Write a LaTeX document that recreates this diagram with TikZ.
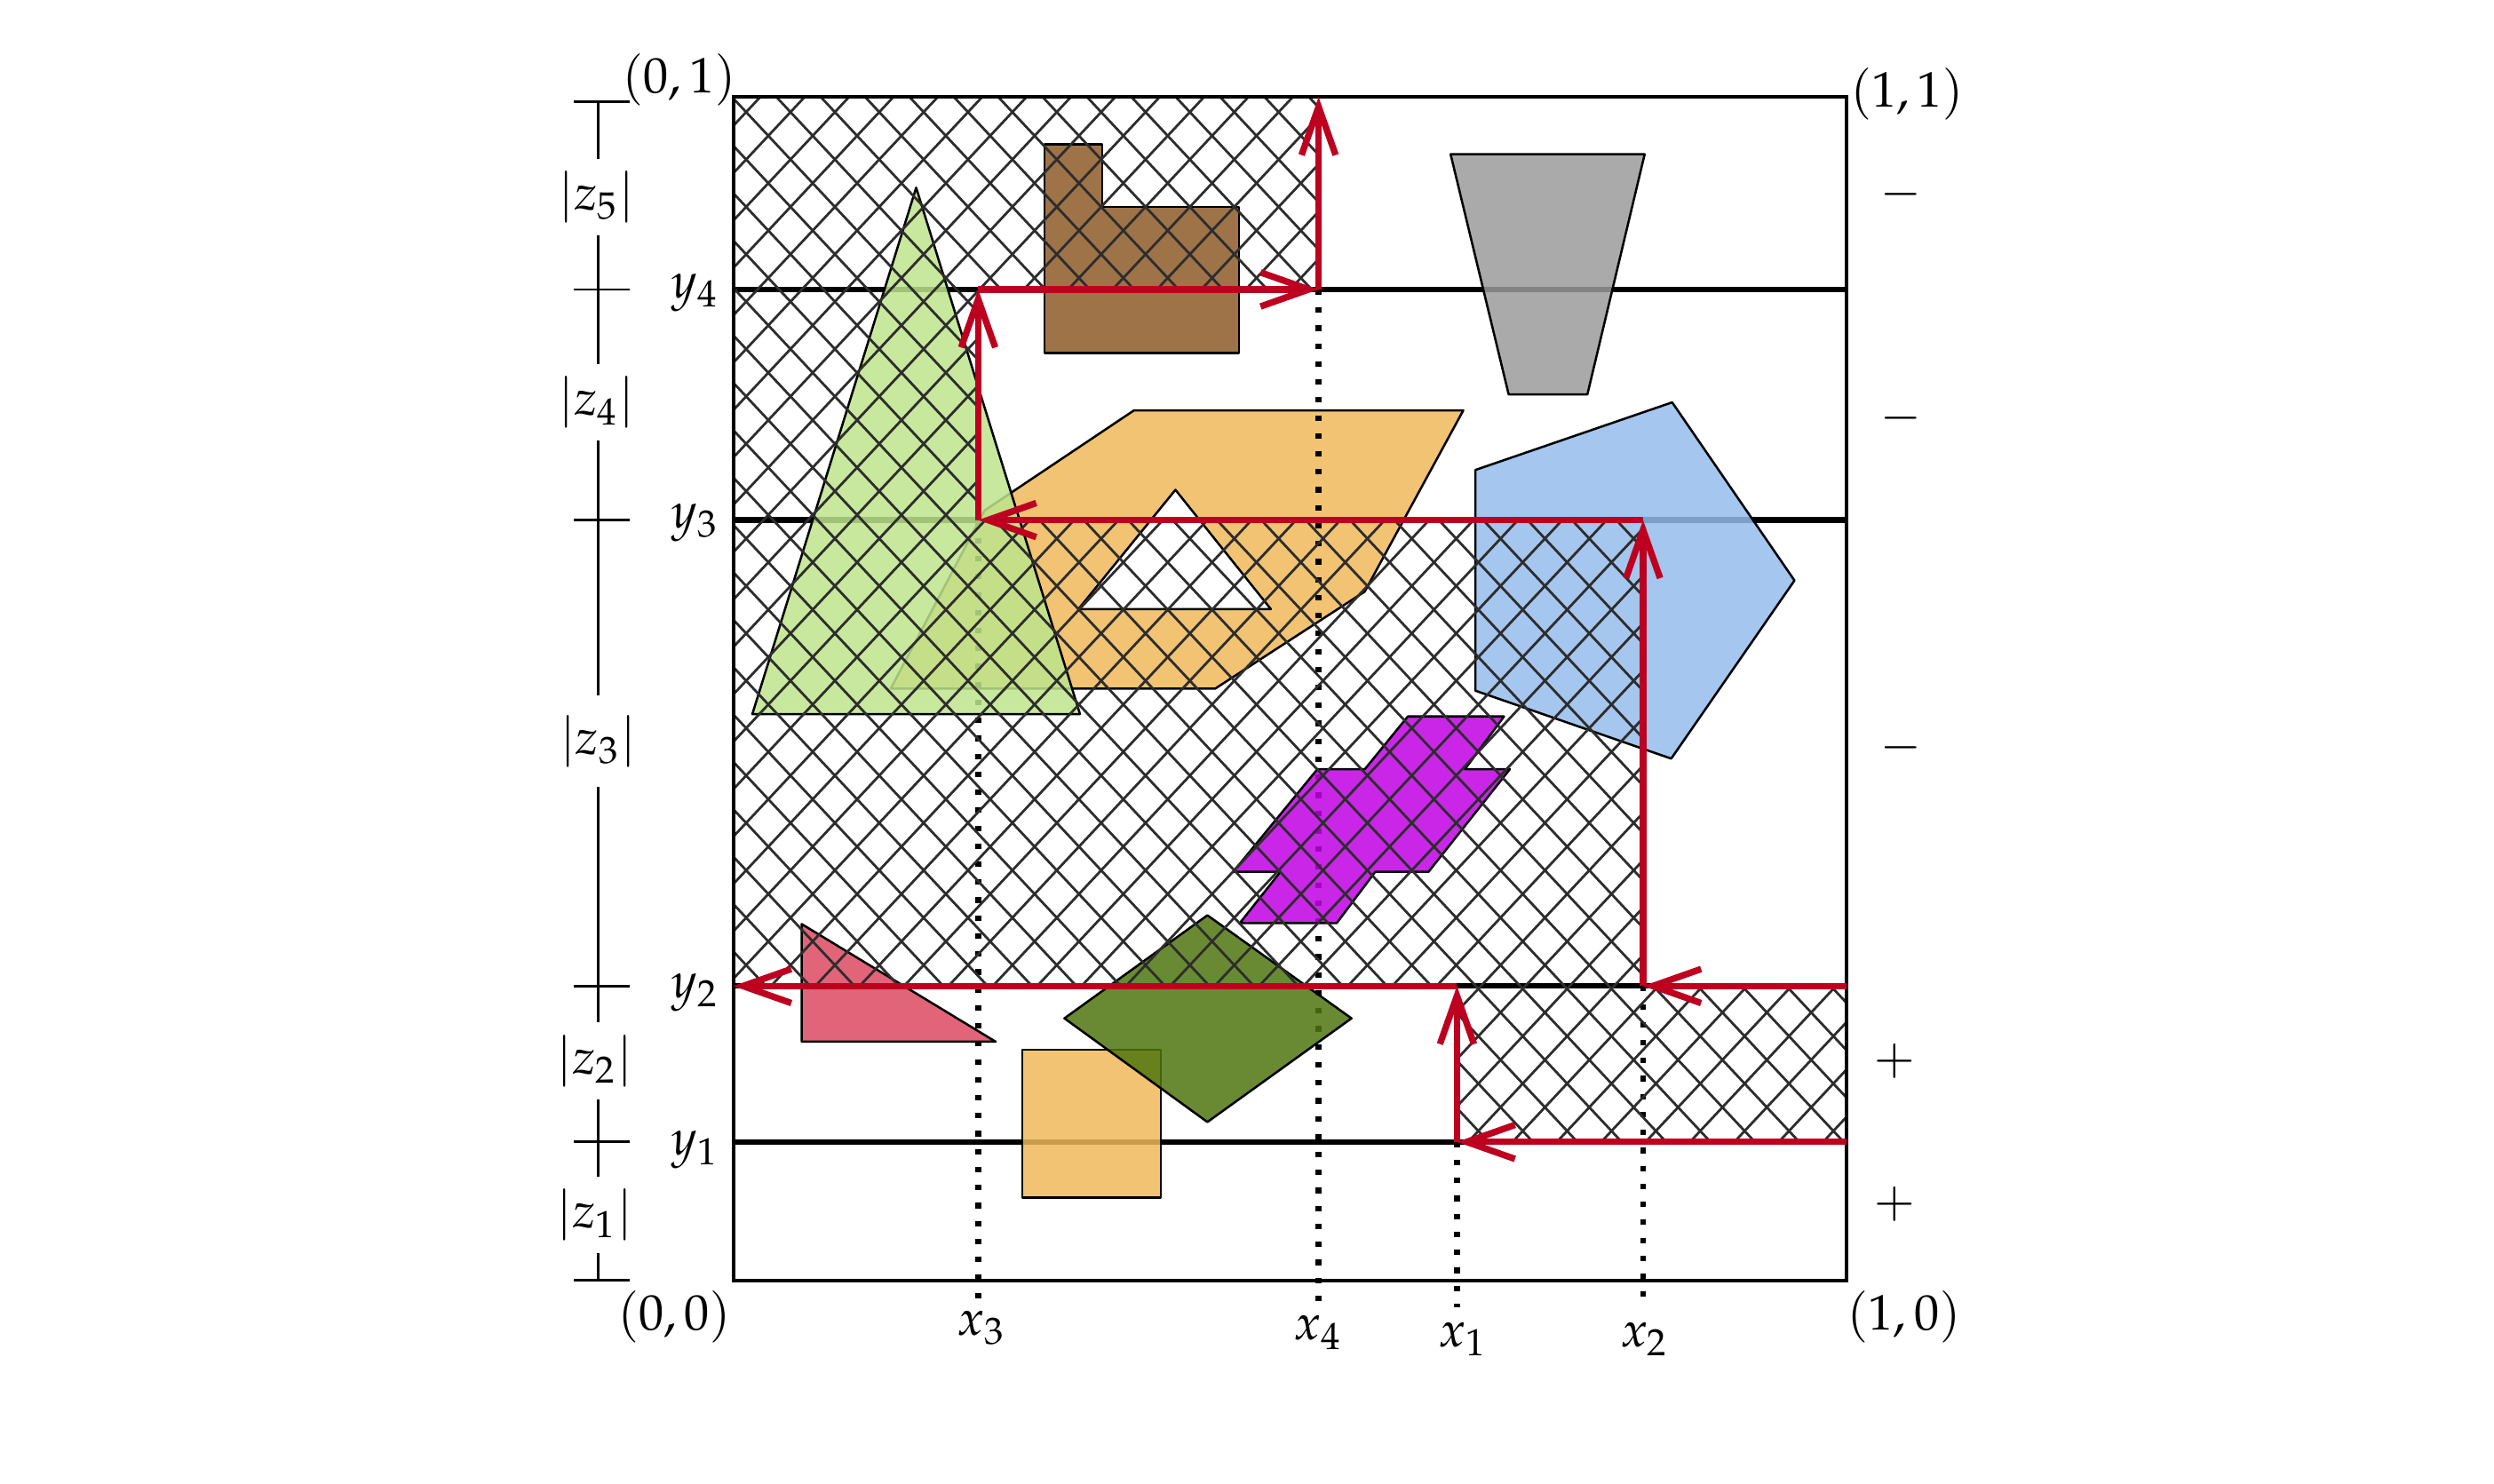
\documentclass[tikz,border=0pt]{standalone}
\usepackage{mathpazo}
\usetikzlibrary{arrows.meta}
\definecolor{cgreen}{RGB}{190,228,140}
\definecolor{cbrown}{RGB}{141,91,40}
\definecolor{cgray}{RGB}{155,155,155}
\definecolor{corange}{RGB}{238,185,91}
\definecolor{cblue}{RGB}{149,188,235}
\definecolor{cpurple}{RGB}{192,0,228}
\definecolor{cpink}{RGB}{220,73,96}
\definecolor{colive}{RGB}{79,118,14}
\definecolor{flowred}{RGB}{190,0,32}
\definecolor{hatchgray}{RGB}{45,45,45}
\tikzset{
  hatchline/.style={draw=hatchgray, line width=0.5pt},
  shp/.style={draw=black, line width=0.45pt, fill opacity=0.85, line join=round},
  level/.style={draw=black, line width=1.1pt},
  dotline/.style={draw=black, line width=1.2pt, dash pattern=on 1.1pt off 2.5pt},
  flow/.style={draw=flowred, line width=1.3pt, -{Straight Barb[length=3.4mm,width=2.4mm]}},
  lbl/.style={inner sep=1pt},
  zlbl/.style={fill=white, inner sep=2.5pt},
}
\begin{document}
\begin{tikzpicture}[x=0.0112cm, y=-0.0112cm]
\useasboundingbox (0,0) rectangle (1568,933);

% corners of the boundary paths
\coordinate (p1) at (1161,620);
\coordinate (p2) at (1033,620);
\coordinate (p3) at (1033,327);
\coordinate (p4) at (615,327);
\coordinate (p5) at (615,182);
\coordinate (p6) at (829,182);
\coordinate (p7) at (829,61);
\coordinate (q1) at (1161,718);
\coordinate (q2) at (916,718);
\coordinate (q3) at (916,620);
\coordinate (q4) at (461,620);

% level lines
\draw[level] (461,182) -- (1161,182);
\draw[level] (461,327) -- (1161,327);
\draw[level] (461,620) -- (1161,620);
\draw[level] (461,718) -- (1161,718);

% orange shape with hole
\path[shp, fill=corange, even odd rule]
  (713,258) -- (920,258) -- (858,372) -- (764,433) -- (560,433) -- (619,321) -- cycle
  (739,308) -- (799,383) -- (678,383) -- cycle;

% dotted lines
\draw[dotline] (615,327) -- (615,822);
\draw[dotline] (829,182) -- (829,822);
\draw[dotline] (916,718) -- (916,822);
\draw[dotline] (1033,620) -- (1033,822);

% shapes
\path[shp, fill=cbrown] (656.6,90.8) -- (693.1,90.8) -- (693.1,130) -- (779,130) -- (779,222) -- (656.6,222) -- cycle;
\path[shp, fill=cgray] (912,97) -- (1034,97) -- (998,248) -- (948.5,248) -- cycle;
\path[shp, fill=cblue] (927.6,295.5) -- (1051.3,253) -- (1128.2,365) -- (1050.7,477) -- (927.6,434.3) -- cycle;
\path[shp, fill=cgreen] (576,118) -- (679,449) -- (473,449) -- cycle;
\path[shp, fill=cpurple] (885.1,450.5) -- (945.6,450.5) -- (921,483.6) -- (949.3,483.6) -- (898.1,548.2)
  -- (864.6,548.2) -- (840.4,580.4) -- (779.5,580.4) -- (805,548.2) -- (775.3,548.2)
  -- (828.3,483.6) -- (858.1,483.6) -- cycle;
\path[shp, fill=cpink] (504,581) -- (626,655) -- (504,655) -- cycle;
\path[shp, fill=corange] (642.6,660) -- (729.7,660) -- (729.7,753) -- (642.6,753) -- cycle;
\path[shp, fill=colive] (759.1,575.5) -- (849.7,640.3) -- (759.1,705.5) -- (669.2,640.3) -- cycle;

% hatched region
\begin{scope}
  \clip (461,61) -- (829,61) -- (829,182) -- (615,182) -- (615,327) -- (1033,327)
        -- (1033,620) -- (1161,620) -- (1161,718) -- (916,718) -- (916,620) -- (461,620) -- cycle;
  \foreach \k in {-20,...,45} {
    \draw[hatchline] ({40.4+27.9*\k},0) -- ++(873.6,933);
    \draw[hatchline] ({953.6+27.9*\k},0) -- ++(-873.6,933);
  }
\end{scope}

% frame
\draw[line width=0.7pt] (461,61) rectangle (1161,805);

% boundary paths
\draw[flow] (p1) -- (p2);
\draw[flow] (p2) -- (p3);
\draw[flow] (p3) -- (p4);
\draw[flow] (p4) -- (p5);
\draw[flow] (p5) -- (p6);
\draw[flow] (p6) -- (p7);
\draw[flow] (q1) -- (q2);
\draw[flow] (q2) -- (q3);
\draw[flow] (q3) -- (q4);

% ruler
\draw[line width=0.5pt] (376,64) -- (376,805);
\foreach \yy in {64,182,327,620,718,805} \draw[line width=0.5pt] (361,\yy) -- (396,\yy);
\node[zlbl] (z5) at (375,124) {$|z_5|$};
\node[zlbl] (z4) at (375,253) {$|z_4|$};
\node[zlbl, inner sep=4pt] (z3) at (376,466) {$|z_3|$};
\node[zlbl] (z2) at (374,667) {$|z_2|$};
\node[zlbl] (z1) at (374,764) {$|z_1|$};

% corner labels
\node[lbl] (c01) at (427,50) {$(0,1)$};
\node[lbl] (c11) at (1199,59) {$(1,1)$};
\node[lbl] (c00) at (424,828) {$(0,0)$};
\node[lbl] (c10) at (1197,828) {$(1,0)$};

% y labels
\node[lbl] (ly4) at (437,184) {$y_4$};
\node[lbl] (ly3) at (437,329) {$y_3$};
\node[lbl] (ly2) at (437,624) {$y_2$};
\node[lbl] (ly1) at (437,723) {$y_1$};

% x labels
\node[lbl] (lx3) at (617,835) {$x_3$};
\node[lbl] (lx4) at (829,838) {$x_4$};
\node[lbl] (lx1) at (920,842) {$x_1$};
\node[lbl] (lx2) at (1034,842) {$x_2$};

% signs
\node[lbl] (s5) at (1195,122) {$-$};
\node[lbl] (s4) at (1195,263) {$-$};
\node[lbl] (s3) at (1195,470) {$-$};
\node[lbl] (s2) at (1191,667) {$+$};
\node[lbl] (s1) at (1191,757) {$+$};
\end{tikzpicture}
\end{document}
